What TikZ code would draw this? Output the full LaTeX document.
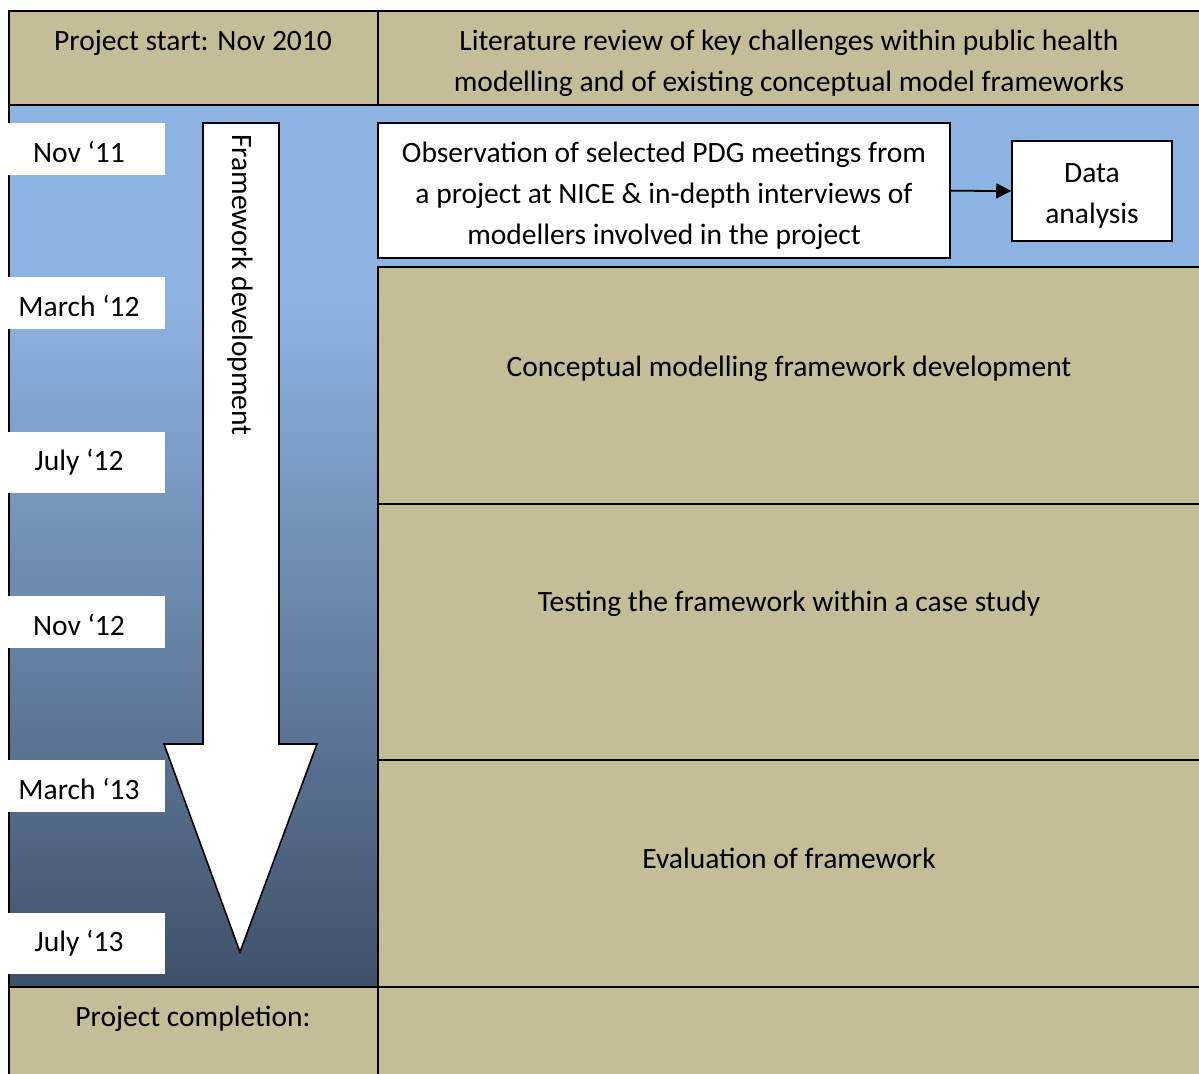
\documentclass[tikz,border=0pt]{standalone}
\usepackage{fontspec}
\setmainfont{Carlito}
\usetikzlibrary{arrows.meta}
\definecolor{tan}{HTML}{C4BD97}
\definecolor{bluetop}{HTML}{8DB3E2}
\definecolor{bluebot}{HTML}{3F5069}
\begin{document}
\begin{tikzpicture}[x=0.02cm,y=-0.02cm]
    \tikzstyle{cell}=[fill=tan, draw=black, line width=1.1pt]
    \tikzstyle{txt}=[font=\fontsize{16.8}{23.3}\selectfont, align=center, inner sep=0pt]
    \tikzstyle{datebox}=[txt, fill=white, minimum width=3.44cm, minimum height=1.04cm]
    \tikzstyle{whitebox}=[txt, fill=white, draw=black, line width=0.9pt]
    \useasboundingbox (0,0) rectangle (1199,1073);
    % blue timeline band
    \fill[bluetop] (9,105) rectangle (1201,300);
    \shade[top color=bluetop, bottom color=bluebot] (9,299) rectangle (1201,987);
    \draw[line width=1.1pt] (9,105) rectangle (1201,987);
    % table cells
    \filldraw[cell] (9,11) rectangle (378,105);
    \filldraw[cell] (378,11) rectangle (1201,105);
    \filldraw[cell] (378,267) rectangle (1201,504);
    \filldraw[cell] (378,504) rectangle (1201,760);
    \filldraw[cell] (378,760) rectangle (1201,987);
    \filldraw[cell] (9,987) rectangle (378,1080);
    \filldraw[cell] (378,987) rectangle (1201,1080);
    \node[txt] (start) at (193,43){Project start: Nov 2010};
    \node[txt] (litrev) at (789,63){Literature review of key challenges within public health\\modelling and of existing conceptual model frameworks};
    \node[txt] (concept) at (789,369){Conceptual modelling framework development};
    \node[txt] (testing) at (789,604){Testing the framework within a case study};
    \node[txt] (evaluat) at (789,858){Evaluation of framework};
    \node[txt] (complete) at (193,1019){Project completion:};
    % study boxes
    \node[whitebox, minimum width=11.44cm, minimum height=2.7cm] (observ) at (664,190.5){\rule{0pt}{18pt}Observation of selected PDG meetings from\\a project at NICE \& in-depth interviews of\\modellers involved in the project};
    \node[whitebox, minimum width=3.2cm, minimum height=2cm] (dataan) at (1092,191){\rule{0pt}{16pt}Data\\analysis};
    \draw[-{Triangle[length=0.3cm,width=0.3cm]}, line width=1pt] (observ) -- (dataan);
    % big arrow
    \filldraw[fill=white, draw=black, line width=0.9pt] (203,123) -- (279,123) -- (279,744) -- (317,744) -- (240,952) -- (164,744) -- (203,744) -- cycle;
    \node[txt, rotate=-90] (fwdev) at (240,285){Framework development};
    % dates
    \node[datebox] (d1) at (79,149){\rule{0pt}{15pt}Nov ‘11};
    \node[datebox] (d2) at (79,303){\rule{0pt}{15pt}March ‘12};
    \node[datebox, minimum height=1.22cm] (d3) at (79,462){July ‘12};
    \node[datebox] (d4) at (79,622){\rule{0pt}{15pt}Nov ‘12};
    \node[datebox] (d5) at (79,786){\rule{0pt}{15pt}March ‘13};
    \node[datebox, minimum height=1.22cm] (d6) at (79,943){July ‘13};
\end{tikzpicture}
\end{document}
